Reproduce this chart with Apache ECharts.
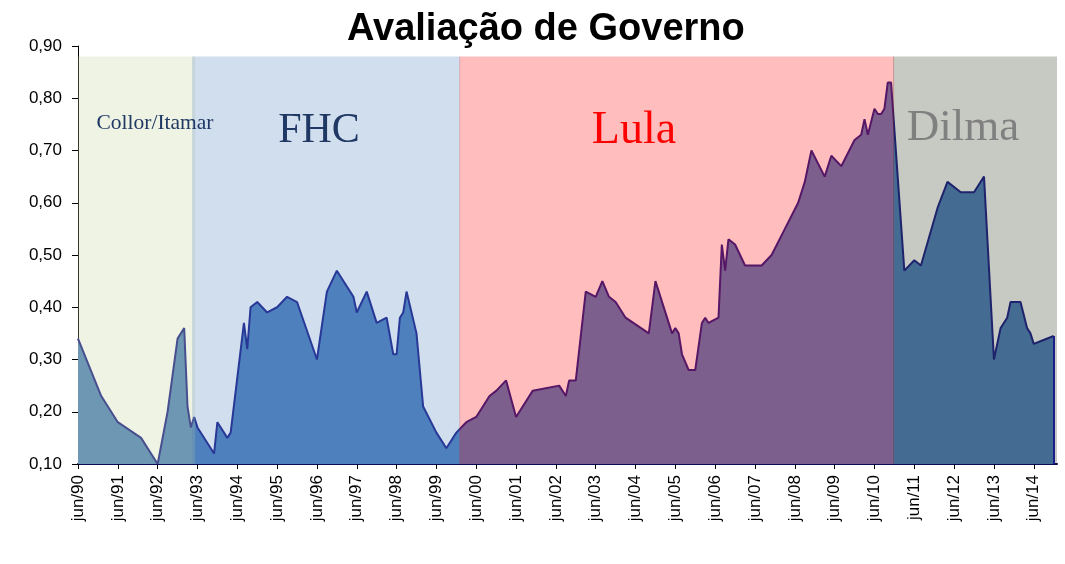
<!DOCTYPE html>
<html><head><meta charset="utf-8">
<script src="https://cdn.jsdelivr.net/npm/echarts@6/dist/echarts.min.js"></script>
<style>html,body{margin:0;padding:0;background:#fff}#c{width:1065px;height:564px}</style>
</head><body><div id="c"></div><script>
// x = months since jun/1990
const months = [0,7,12,19,24,27,30,32,33,34,35,36,41,42,45,46,50,51,52,54,57,60,63,66,72,75,78,83,84,87,90,93,95,96,97,98,99,102,104,108,111,114,117,120,124,126,129,132,137,145,147,148,150,153,156,158,160,162,165,172,174,179,180,181,182,184,186,188,189,190,193,194,195,196,198,201,206,209,213,217,219,221,225,227,230,234,236,237,238,240,241,242,243,244,245,249,252,254,259,262,266,270,273,276,278,280,281,284,286,287,288,290,294];
const values = [0.34,0.23,0.18,0.15,0.10,0.20,0.34,0.36,0.21,0.17,0.19,0.17,0.12,0.18,0.15,0.16,0.37,0.32,0.40,0.41,0.39,0.40,0.42,0.41,0.30,0.43,0.47,0.42,0.39,0.43,0.37,0.38,0.31,0.31,0.38,0.39,0.43,0.35,0.21,0.16,0.13,0.16,0.18,0.19,0.23,0.24,0.26,0.19,0.24,0.25,0.23,0.26,0.26,0.43,0.42,0.45,0.42,0.41,0.38,0.35,0.45,0.35,0.36,0.35,0.31,0.28,0.28,0.37,0.38,0.37,0.38,0.52,0.47,0.53,0.52,0.48,0.48,0.50,0.55,0.60,0.64,0.70,0.65,0.69,0.67,0.72,0.73,0.76,0.73,0.78,0.77,0.77,0.78,0.83,0.83,0.47,0.49,0.48,0.59,0.64,0.62,0.62,0.65,0.30,0.36,0.38,0.41,0.41,0.36,0.35,0.33,0.335,0.345];
const periodNames = ['Collor/Itamar','FHC','Lula','Dilma'];
const periodStart = [0, 34.4, 114.9, 245.6];
const periodEnd = [35.3, 115.2, 245.9, 295];
const periodColors = ['rgba(195,210,154,0.27)','rgba(79,129,189,0.26)','rgba(255,0,0,0.26)','rgba(37,47,24,0.26)'];
const yTicks = [0.1,0.2,0.3,0.4,0.5,0.6,0.7,0.8,0.9];

const data = months.map((m,i)=>[m, values[i]]);
const lastM = months[months.length-1], lastV = values[values.length-1];
const chart = echarts.init(document.getElementById('c'));
const yearLabel = m => 'jun/' + String((90 + Math.round(m/12)) % 100).padStart(2,'0');
const option = {
  animation:false,
  title:{text:'Avaliação de Governo', left:347, top:11, padding:0,
    textStyle:{fontFamily:'"Liberation Sans", Arial', fontWeight:'bold', fontSize:38, color:'#000'}},
  grid:{left:78, right:8, top:46, bottom:100},
  xAxis:{type:'value', min:0, max:295, interval:12,
    axisLine:{onZero:false, lineStyle:{color:'#0a0a55', width:2}},
    axisTick:{length:5, lineStyle:{color:'#000'}},
    axisLabel:{rotate:90, formatter:yearLabel, fontSize:17, fontFamily:'"Liberation Sans", Arial', color:'#000', margin:11, showMaxLabel:false},
    splitLine:{show:false}},
  yAxis:{type:'value', min:yTicks[0], max:yTicks[yTicks.length-1], interval:0.1,
    axisLine:{show:true, lineStyle:{color:'#000', width:1}},
    axisTick:{show:true, length:6, lineStyle:{color:'#000'}},
    axisLabel:{formatter:v=>v.toFixed(2).replace('.',','), fontSize:17, fontFamily:'"Liberation Sans", Arial', color:'#000', margin:16},
    splitLine:{show:false}},
  series:[{
    type:'line', data:data, symbol:'none', z:2,
    lineStyle:{color:'#1b1f8a', width:2},
    areaStyle:{color:'#4f81bd', opacity:1, origin:'start'},
    markLine:{silent:true, symbol:'none', animation:false,
      lineStyle:{color:'#1b1f8a', width:2, type:'solid'}, label:{show:false},
      data:[[{coord:[lastM, yTicks[0]]},{coord:[lastM, lastV]}]]},
    markArea:{silent:true, z:3, label:{show:false},
      data: periodNames.map((n,i)=>[{name:n, xAxis:periodStart[i], yAxis:yTicks[0], itemStyle:{color:periodColors[i]}},{xAxis:periodEnd[i], yAxis:0.88}])}
  }],
  graphic:[
    {type:'text', x:155, y:123, z:100, style:{text:periodNames[0], fontSize:21.5, fontFamily:'"Liberation Serif", serif', fill:'#1f3864', align:'center', verticalAlign:'middle'}},
    {type:'text', x:319, y:131, z:100, style:{text:periodNames[1], fontSize:42, fontFamily:'"Liberation Serif", serif', fill:'#1f3864', align:'center', verticalAlign:'middle'}},
    {type:'text', x:634, y:131, z:100, style:{text:periodNames[2], fontSize:46, fontFamily:'"Liberation Serif", serif', fill:'#ff0000', align:'center', verticalAlign:'middle'}},
    {type:'text', x:963, y:128, z:100, style:{text:periodNames[3], fontSize:45, fontFamily:'"Liberation Serif", serif', fill:'#808080', align:'center', verticalAlign:'middle'}}
  ]
};
chart.setOption(option);
</script></body></html>
